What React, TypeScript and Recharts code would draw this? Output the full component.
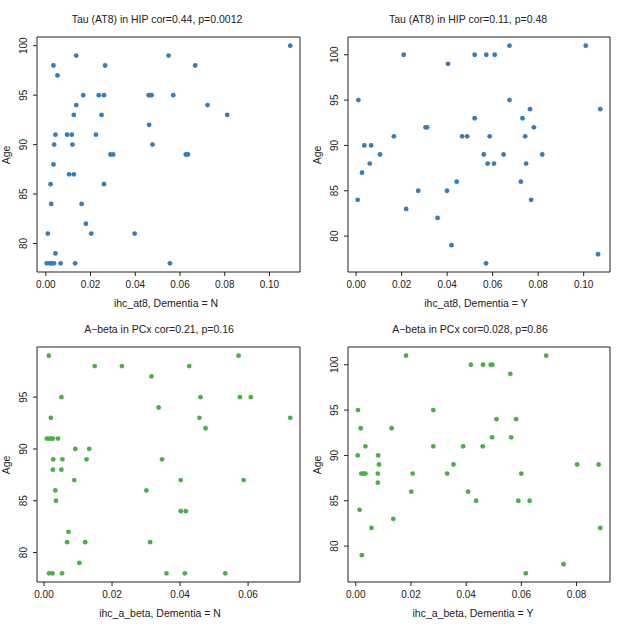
import React from "react";
import {
  ScatterChart,
  Scatter,
  XAxis,
  YAxis,
  ReferenceArea,
} from "recharts";

// ---------- Data ----------
// Panel 1: Tau (AT8) in HIP, Dementia = N
const at8N_x = [
  0.1093, 0.0136, 0.0549, 0.0034, 0.0265, 0.0668, 0.0052, 0.0167, 0.0237, 0.026,
  0.046, 0.0466, 0.0473, 0.057, 0.0136, 0.0723, 0.0125, 0.0249, 0.0811, 0.0462,
  0.0043, 0.0095, 0.0116, 0.0224, 0.0037, 0.0119, 0.0477, 0.0289, 0.0301, 0.0626,
  0.0635, 0.0034, 0.0104, 0.0125, 0.0021, 0.026, 0.0024, 0.016, 0.0179, 0.0009,
  0.0203, 0.0397, 0.0043, 0.0004, 0.0018, 0.0027, 0.0036, 0.0066, 0.0131, 0.0555,
];
const at8N_age = [
  100, 99, 99, 98, 98, 98, 97, 95, 95, 95,
  95, 95, 95, 95, 94, 94, 93, 93, 93, 92,
  91, 91, 91, 91, 90, 90, 90, 89, 89, 89,
  89, 88, 87, 87, 86, 86, 84, 84, 82, 81,
  81, 81, 79, 78, 78, 78, 78, 78, 78, 78,
];

// Panel 2: Tau (AT8) in HIP, Dementia = Y
const at8Y_x = [
  0.1009, 0.0674, 0.0209, 0.0521, 0.0572, 0.0609, 0.0404, 0.001, 0.0674, 0.0764,
  0.1073, 0.0521, 0.0731, 0.0305, 0.0312, 0.0781, 0.0166, 0.0466, 0.0488, 0.0587,
  0.0743, 0.0036, 0.0066, 0.0105, 0.0561, 0.0648, 0.0818, 0.006, 0.0578, 0.0606,
  0.0747, 0.0026, 0.0442, 0.0724, 0.0273, 0.0399, 0.0007, 0.0769, 0.022, 0.0358,
  0.0419, 0.1063, 0.0571,
];
const at8Y_age = [
  101, 101, 100, 100, 100, 100, 99, 95, 95, 94,
  94, 93, 93, 92, 92, 92, 91, 91, 91, 91,
  91, 90, 90, 89, 89, 89, 89, 88, 88, 88,
  88, 87, 86, 86, 85, 85, 84, 84, 83, 82,
  79, 78, 77,
];

// Panel 3: A-beta in PCx, Dementia = N
const abN_x = [
  0.0014, 0.0149, 0.0229, 0.0427, 0.0572, 0.0316, 0.0051, 0.046, 0.0576, 0.0608,
  0.0337, 0.002, 0.0457, 0.0724, 0.0475, 0.0008, 0.0015, 0.0022, 0.0026, 0.0041,
  0.0092, 0.0133, 0.0027, 0.0054, 0.0125, 0.0347, 0.0026, 0.0051, 0.0089, 0.0402,
  0.0587, 0.0033, 0.0301, 0.0035, 0.0402, 0.0417, 0.0072, 0.0068, 0.0121, 0.0312,
  0.0104, 0.0015, 0.0025, 0.0053, 0.036, 0.0414, 0.0533,
];
const abN_age = [
  99, 98, 98, 98, 99, 97, 95, 95, 95, 95,
  94, 93, 93, 93, 92, 91, 91, 91, 91, 91,
  90, 90, 89, 89, 89, 89, 88, 88, 87, 87,
  87, 86, 86, 85, 84, 84, 82, 81, 81, 81,
  79, 78, 78, 78, 78, 78, 78,
];

// Panel 4: A-beta in PCx, Dementia = Y
const abY_x = [
  0.0182, 0.069, 0.0417, 0.0461, 0.0489, 0.0495, 0.056, 0.0008, 0.0281, 0.051,
  0.0581, 0.0018, 0.013, 0.0494, 0.0563, 0.0035, 0.0281, 0.0389, 0.046, 0.0007,
  0.0081, 0.0084, 0.0354, 0.0802, 0.088, 0.002, 0.0028, 0.0035, 0.008, 0.0206,
  0.0331, 0.06, 0.008, 0.0201, 0.0407, 0.0436, 0.0589, 0.063, 0.0014, 0.0136,
  0.0057, 0.0886, 0.0022, 0.0753, 0.0616,
];
const abY_age = [
  101, 101, 100, 100, 100, 100, 99, 95, 95, 94,
  94, 93, 93, 92, 92, 91, 91, 91, 91, 90,
  90, 89, 89, 89, 89, 88, 88, 88, 88, 88,
  88, 88, 87, 86, 86, 85, 85, 85, 84, 83,
  82, 82, 79, 78, 77,
];

// Tick labels
const xTicksAt8 = [0, 0.02, 0.04, 0.06, 0.08, 0.1];
const xTicksAbN = [0, 0.02, 0.04, 0.06];
const xTicksAbY = [0, 0.02, 0.04, 0.06, 0.08];
const yTicksFull = [80, 85, 90, 95, 100];
const yTicksShort = [80, 85, 90, 95];

const titles = [
  "Tau (AT8) in HIP cor=0.44, p=0.0012",
  "Tau (AT8) in HIP cor=0.11, p=0.48",
  "A\u2212beta in PCx cor=0.21, p=0.16",
  "A\u2212beta in PCx cor=0.028, p=0.86",
];
const xLabels = [
  "ihc_at8, Dementia = N",
  "ihc_at8, Dementia = Y",
  "ihc_a_beta, Dementia = N",
  "ihc_a_beta, Dementia = Y",
];
const yLabel = "Age";

const BLUE = "#377EB8";
const GREEN = "#4DAF4A";
const FONT = '"Liberation Sans", Arial, sans-serif';
const INK = "#222";

// R-style axis range: data range extended by 4% each side
function rRange(arr: number[]): [number, number] {
  const mn = Math.min(...arr);
  const mx = Math.max(...arr);
  const p = (mx - mn) * 0.04;
  return [mn - p, mx + p];
}

type Box = { l: number; t: number; r: number; b: number };

const YTick = (props: any) => {
  const { x, y, payload } = props;
  const cx = x - 7.5;
  return (
    <text
      x={cx}
      y={y}
      dy="0.35em"
      textAnchor="middle"
      transform={`rotate(-90, ${cx}, ${y})`}
      fontSize={10}
      fill={INK}
      fontFamily={FONT}
    >
      {payload.value}
    </text>
  );
};

function Panel(props: {
  xs: number[];
  ys: number[];
  color: string;
  box: Box;
  xTicks: number[];
  yTicks: number[];
  title: string;
  titleX: number;
  xLabel: string;
  xLabelX: number;
}) {
  const { xs, ys, color, box, xTicks, yTicks, title, titleX, xLabel, xLabelX } = props;
  const data = xs.map((x, i) => ({ x, y: ys[i] }));
  const xd = rRange(xs);
  const yd = rRange(ys);
  const LEFT = 37;
  const TOP = 37;
  const RIGHT = 5;
  const BOTTOM = 40;
  const w = box.r - box.l + LEFT + RIGHT;
  const h = box.b - box.t + TOP + BOTTOM;
  const textStyle: React.CSSProperties = {
    position: "absolute",
    fontFamily: FONT,
    fontSize: 10.5,
    color: INK,
    whiteSpace: "nowrap",
    lineHeight: 1,
  };
  return (
    <>
      <div style={{ position: "absolute", left: box.l - LEFT, top: box.t - TOP }}>
        <ScatterChart
          width={w}
          height={h}
          margin={{ top: TOP, right: RIGHT, bottom: 0, left: 0 }}
        >
          <XAxis
            type="number"
            dataKey="x"
            domain={xd}
            allowDataOverflow
            ticks={xTicks}
            interval={0}
            height={BOTTOM}
            axisLine={false}
            tickSize={4}
            tickMargin={5}
            tickLine={{ stroke: INK }}
            tick={{ fontSize: 10, fill: INK, fontFamily: FONT }}
            tickFormatter={(v: number) => v.toFixed(2)}
          />
          <YAxis
            type="number"
            dataKey="y"
            domain={yd}
            allowDataOverflow
            ticks={yTicks}
            interval={0}
            width={LEFT}
            axisLine={false}
            tickSize={4}
            tickMargin={2}
            tickLine={{ stroke: INK }}
            tick={<YTick />}
          />
          <ReferenceArea
            x1={xd[0]}
            x2={xd[1]}
            y1={yd[0]}
            y2={yd[1]}
            fill="none"
            fillOpacity={0}
            stroke={INK}
            strokeWidth={1}
            ifOverflow="visible"
          />
          <Scatter
            data={data}
            fill={color}
            isAnimationActive={false}
            shape={(p: any) => <circle cx={p.cx} cy={p.cy} r={2.4} fill={color} />}
          />
        </ScatterChart>
      </div>
      <div
        style={{
          ...textStyle,
          left: titleX,
          top: box.t - 18,
          transform: "translate(-50%, -50%)",
        }}
      >
        {title}
      </div>
      <div
        style={{
          ...textStyle,
          left: xLabelX,
          top: box.b + 31,
          transform: "translate(-50%, -50%)",
        }}
      >
        {xLabel}
      </div>
      <div
        style={{
          ...textStyle,
          left: box.l - 31,
          top: (box.t + box.b) / 2,
          transform: "translate(-50%, -50%) rotate(-90deg)",
        }}
      >
        {yLabel}
      </div>
    </>
  );
}

export default function App() {
  return (
    <div
      style={{
        position: "absolute",
        left: 0,
        top: 0,
        width: 617,
        height: 628,
        background: "#fff",
        overflow: "hidden",
      }}
    >
      <Panel
        xs={at8N_x}
        ys={at8N_age}
        color={BLUE}
        box={{ l: 37, t: 37, r: 300, b: 272 }}
        xTicks={xTicksAt8}
        yTicks={yTicksFull}
        title={titles[0]}
        titleX={157}
        xLabel={xLabels[0]}
        xLabelX={166}
      />
      <Panel
        xs={at8Y_x}
        ys={at8Y_age}
        color={BLUE}
        box={{ l: 348, t: 37, r: 610, b: 272 }}
        xTicks={xTicksAt8}
        yTicks={yTicksFull}
        title={titles[1]}
        titleX={468}
        xLabel={xLabels[1]}
        xLabelX={476}
      />
      <Panel
        xs={abN_x}
        ys={abN_age}
        color={GREEN}
        box={{ l: 37, t: 347, r: 300, b: 582 }}
        xTicks={xTicksAbN}
        yTicks={yTicksShort}
        title={titles[2]}
        titleX={159}
        xLabel={xLabels[2]}
        xLabelX={160}
      />
      <Panel
        xs={abY_x}
        ys={abY_age}
        color={GREEN}
        box={{ l: 348, t: 347, r: 610, b: 582 }}
        xTicks={xTicksAbY}
        yTicks={yTicksFull}
        title={titles[3]}
        titleX={470}
        xLabel={xLabels[3]}
        xLabelX={473}
      />
    </div>
  );
}
